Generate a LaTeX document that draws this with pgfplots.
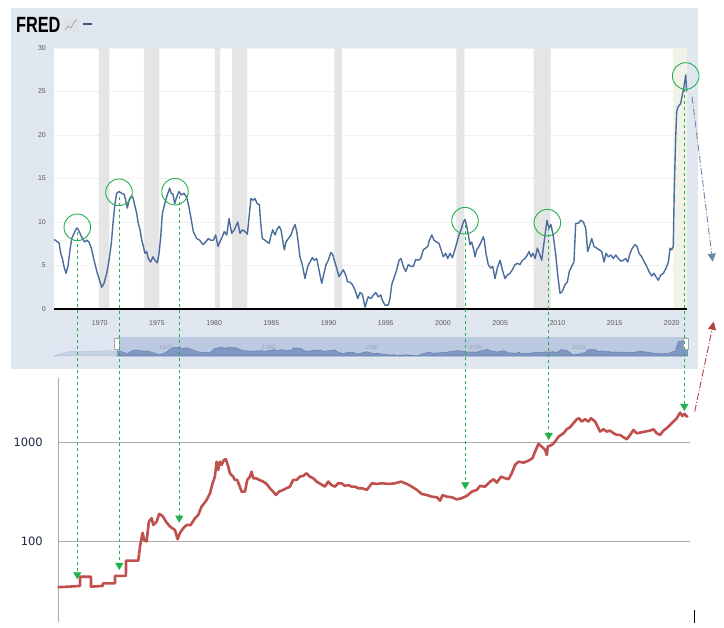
\documentclass[border=0pt]{standalone}
\usepackage{fontspec}
\setmainfont{Liberation Sans}
\newfontfamily\dejavu{DejaVu Sans}
\usepackage{pgfplots}
\pgfplotsset{compat=1.18}
\usepackage{pgfplotstable}
\usetikzlibrary{arrows.meta}
\definecolor{panel}{HTML}{E0E7EF}
\definecolor{rec}{HTML}{E5E5E5}
\definecolor{covid}{HTML}{F1F2E8}
\definecolor{fredline}{HTML}{4C6C9E}
\definecolor{navsel}{HTML}{BBC9E1}
\definecolor{navfill}{HTML}{7F97C2}
\definecolor{navline}{HTML}{6880AE}
\definecolor{navtxt}{HTML}{97A6BF}
\definecolor{gold}{HTML}{C0504D}
\definecolor{grn}{RGB}{34,177,76}
\definecolor{arrowblue}{HTML}{6F87AA}
\definecolor{arrowred}{HTML}{B5403D}
\definecolor{gridc}{HTML}{E4E4DC}
\definecolor{labc}{HTML}{1F2A44}
\definecolor{ticklab}{HTML}{5A5A5A}

\pgfplotstableread{
x y
1966.00 8.0
1966.44 7.6
1966.59 6.4
1966.73 5.8
1966.87 4.9
1967.05 4.1
1967.22 4.9
1967.40 6.8
1967.55 8.1
1967.75 8.7
1967.98 9.3
1968.10 9.2
1968.27 8.7
1968.47 8.1
1968.68 7.7
1968.86 7.9
1969.06 7.7
1969.26 7.0
1969.50 5.6
1969.79 4.1
1970.17 2.5
1970.37 2.95
1970.61 4.1
1970.81 5.6
1971.01 7.55
1971.18 10.2
1971.33 12.1
1971.48 13.3
1971.68 13.5
1971.92 13.3
1972.12 13.2
1972.27 12.5
1972.41 11.6
1972.58 12.6
1972.79 13.0
1972.93 12.7
1973.08 11.8
1973.23 11.0
1973.34 10.0
1973.52 9.1
1973.67 7.9
1973.81 7.2
1973.95 6.4
1974.10 6.6
1974.24 5.8
1974.45 5.4
1974.65 6.0
1974.83 5.6
1975.03 5.3
1975.18 6.4
1975.33 8.3
1975.47 11.0
1975.68 12.1
1975.90 13.1
1976.11 13.9
1976.25 13.3
1976.40 13.2
1976.55 12.1
1976.73 12.9
1976.93 13.5
1977.13 13.1
1977.36 13.3
1977.57 12.9
1977.74 12.1
1977.95 10.6
1978.18 8.9
1978.47 8.1
1978.74 7.9
1979.02 7.4
1979.26 7.7
1979.49 8.1
1979.70 7.9
1979.93 7.9
1980.13 8.5
1980.34 7.2
1980.50 7.7
1980.71 8.3
1980.88 8.9
1981.10 8.5
1981.30 10.4
1981.53 8.7
1981.76 9.1
1982.06 10.0
1982.26 8.7
1982.46 9.1
1982.70 8.9
1982.90 8.6
1983.05 10.6
1983.22 12.7
1983.42 12.5
1983.57 12.7
1983.77 12.1
1983.95 12.0
1984.07 9.85
1984.21 8.1
1984.44 7.9
1984.65 7.7
1984.82 7.55
1984.94 8.3
1985.12 9.1
1985.32 8.5
1985.47 9.1
1985.67 9.5
1985.84 9.1
1985.99 7.9
1986.13 6.8
1986.28 7.7
1986.48 8.1
1986.72 8.5
1986.92 9.3
1987.07 9.7
1987.22 8.9
1987.36 7.55
1987.50 6.0
1987.70 5.1
1987.94 3.5
1988.18 4.9
1988.38 5.4
1988.58 5.9
1988.75 5.6
1988.96 5.8
1989.16 4.5
1989.40 2.95
1989.60 4.1
1989.78 5.1
1989.98 5.6
1990.19 6.5
1990.36 6.3
1990.50 5.6
1990.71 4.7
1990.91 3.7
1991.09 4.1
1991.29 4.5
1991.50 3.9
1991.67 3.1
1991.87 3.1
1992.08 2.8
1992.31 2.2
1992.55 1.2
1992.75 1.9
1992.95 1.7
1993.19 0.2
1993.33 0.85
1993.47 1.4
1993.71 1.2
1993.91 1.6
1994.12 1.9
1994.35 1.4
1994.56 1.6
1994.70 1.0
1994.93 0.45
1995.22 0.45
1995.37 1.2
1995.52 2.8
1995.75 3.7
1995.96 4.5
1996.16 5.6
1996.33 5.8
1996.53 4.9
1996.74 4.3
1996.97 5.1
1997.18 4.9
1997.41 4.9
1997.62 5.7
1997.84 5.6
1998.05 5.8
1998.28 6.8
1998.49 7.0
1998.67 7.2
1998.81 7.9
1999.02 8.5
1999.22 7.9
1999.45 7.7
1999.65 7.55
1999.83 6.8
2000.03 6.0
2000.24 6.4
2000.41 5.8
2000.62 6.4
2000.82 5.9
2000.99 6.6
2001.20 7.55
2001.40 8.5
2001.58 9.1
2001.78 10.0
2001.93 10.3
2002.08 9.5
2002.22 8.5
2002.36 7.4
2002.51 7.7
2002.69 6.8
2002.80 6.0
2002.95 6.8
2003.15 7.2
2003.33 7.7
2003.53 8.3
2003.61 7.9
2003.76 6.4
2003.96 5.1
2004.17 4.7
2004.35 4.9
2004.55 3.5
2004.75 4.7
2004.99 5.6
2005.19 4.5
2005.42 3.5
2005.62 3.9
2005.86 4.1
2006.06 4.5
2006.30 5.1
2006.53 5.25
2006.73 5.1
2006.94 5.6
2007.17 5.8
2007.37 6.2
2007.52 6.6
2007.70 6.0
2007.87 6.4
2008.05 5.8
2008.25 7.0
2008.42 6.4
2008.63 5.6
2008.86 7.9
2009.09 10.2
2009.27 9.3
2009.44 9.7
2009.65 8.3
2009.86 6.2
2010.03 3.9
2010.23 1.8
2010.43 2.0
2010.67 2.8
2010.87 3.1
2011.04 4.3
2011.25 4.9
2011.45 5.4
2011.60 9.85
2011.83 9.85
2012.04 10.2
2012.27 10.0
2012.48 9.3
2012.65 6.6
2012.85 7.4
2013.00 8.1
2013.20 7.2
2013.44 7.0
2013.67 6.8
2013.88 6.6
2014.08 5.4
2014.25 6.4
2014.45 6.0
2014.69 6.2
2014.89 5.8
2015.10 6.2
2015.33 5.8
2015.54 5.5
2015.76 5.6
2015.97 5.8
2016.15 5.4
2016.35 6.4
2016.55 7.0
2016.79 7.4
2016.96 7.2
2017.14 6.4
2017.37 6.0
2017.60 5.4
2017.81 4.9
2018.01 4.3
2018.25 3.8
2018.45 4.1
2018.62 3.7
2018.82 3.3
2019.03 3.9
2019.26 4.1
2019.50 4.7
2019.70 5.4
2019.85 7.0
2020.00 6.8
2020.13 7.2
2020.22 13.9
2020.34 19.6
2020.43 22.7
2020.57 23.3
2020.78 23.6
2020.92 24.6
2021.07 25.6
2021.22 26.9
2021.30 25.0
}\mtwo

\pgfplotstableread{
x y
1960.00 0.8
1960.30 1.5
1960.70 3.5
1961.00 5.0
1961.50 6.8
1962.00 7.2
1962.50 6.5
1963.00 7.0
1963.50 7.8
1964.00 7.5
1964.50 7.9
1965.00 8.0
1965.50 8.3
1966.00 8.0
}\mtwoearly

\pgfplotstableread{
x y
1966.32 34.0
1967.25 34.4
1968.27 35.0
1968.28 43.4
1969.23 43.4
1969.24 34.4
1970.26 35.0
1970.27 37.2
1971.33 37.2
1971.34 44.2
1972.29 44.2
1972.30 63.2
1973.37 63.2
1973.52 87.5
1973.75 121
1973.89 102
1974.10 99
1974.30 157
1974.54 170
1974.68 145
1974.98 157
1975.20 188
1975.50 179
1975.79 157
1976.14 140
1976.58 129
1976.81 104
1977.01 120
1977.30 134.5
1977.60 145
1977.95 145
1978.33 170
1978.61 183
1978.91 223
1979.14 241
1979.35 260
1979.64 304
1979.87 384
1980.07 448
1980.22 636
1980.36 524
1980.51 636
1980.66 589
1980.86 662
1981.03 673
1981.24 566
1981.38 485
1981.67 448
1981.82 415
1982.02 415
1982.20 369
1982.41 316
1982.70 316
1982.90 415
1983.13 448
1983.28 503
1983.42 432
1983.66 432
1983.95 415
1984.30 399
1984.59 378
1984.88 342
1985.17 316
1985.41 292
1985.69 316
1986.04 329
1986.34 342
1986.63 355
1986.92 415
1987.22 415
1987.50 448
1987.79 456
1988.09 485
1988.38 448
1988.67 432
1988.96 399
1989.31 378
1989.69 355
1989.98 399
1990.27 369
1990.56 355
1990.85 384
1991.15 384
1991.44 361
1991.73 369
1992.02 355
1992.31 355
1992.60 342
1992.92 342
1993.36 329
1993.80 384
1994.23 378
1994.67 384
1995.26 378
1995.83 384
1996.36 399
1996.86 378
1997.29 355
1997.73 329
1998.17 299
1998.60 292
1999.04 281
1999.48 277
1999.77 256
1999.98 292
2000.35 281
2000.79 277
2001.23 264
2001.66 271
2002.10 286
2002.54 316
2002.98 329
2003.26 361
2003.70 355
2004.14 399
2004.44 422
2004.72 390
2005.10 448
2005.45 432
2005.75 422
2006.03 485
2006.32 589
2006.62 636
2007.06 621
2007.50 651
2007.84 689
2008.07 804
2008.37 962
2008.66 902
2008.95 836
2009.10 743
2009.18 902
2009.53 940
2009.82 1014
2010.12 1140
2010.56 1233
2010.84 1355
2011.13 1419
2011.43 1560
2011.72 1711
2011.92 1751
2012.15 1618
2012.44 1711
2012.74 1618
2012.97 1751
2013.32 1618
2013.55 1439
2013.75 1282
2014.05 1355
2014.34 1282
2014.63 1312
2014.93 1233
2015.21 1186
2015.50 1186
2015.80 1124
2016.09 1072
2016.38 1186
2016.67 1333
2016.96 1233
2017.25 1250
2017.69 1282
2018.13 1312
2018.42 1355
2018.71 1233
2019.00 1186
2019.30 1312
2019.58 1387
2019.87 1497
2020.17 1618
2020.46 1751
2020.75 1995
2020.96 1845
2021.13 1935
2021.42 1791
}\gold

\begin{document}
\begin{tikzpicture}
\path[use as bounding box] (0pt,0pt) rectangle (724pt,628pt);
\begin{scope}[x=1pt, y=-1pt, shift={(0pt,628pt)}]
\fill[white] (0,0) rectangle (724,628);
\fill[panel] (11,8) rectangle (698,369);
% FRED logo
\node[anchor=west, inner sep=0pt, xscale=0.74, font=\fontsize{22}{22}\selectfont\bfseries] at (16,24.5) {FRED};
\fill[gray!22] (64,18) rectangle (78,32);
\draw[fredline!70, line width=0.6pt] (65,30) -- (68,26) -- (71,28) -- (74,22) -- (77,20);
\draw[fredline!80!black, line width=1.2pt] (83,24) -- (92,24);
\end{scope}

% main FRED axis
\begin{axis}[at={(54pt,319pt)}, anchor=south west, scale only axis,
  width=633pt, height=261pt,
  xmin=1966, xmax=2021.33, ymin=0, ymax=30, clip=false,
  axis line style={draw=none}, major tick length=0pt,
  axis background/.style={fill=white},
  ymajorgrids, grid style={color=gridc, line width=0.8pt, dash pattern=on 1pt off 1pt},
  xtick={1970,1975,1980,1985,1990,1995,2000,2005,2010,2015,2020},
  xticklabels={1970,1975,1980,1985,1990,1995,2000,2005,2010,2015,2020},
  ytick={0,5,10,15,20,25,30},
  yticklabels={0,5,10,15,20,25,30},
  tick label style={font=\fontsize{7}{7}\selectfont, text=ticklab},
  xticklabel style={anchor=center, yshift=-14pt},
  yticklabel style={anchor=east, inner sep=0pt, xshift=-8pt},
]
\addplot[fill=rec, draw=none] coordinates {(1969.92,0) (1969.92,30) (1970.83,30) (1970.83,0)} \closedcycle;
\addplot[fill=rec, draw=none] coordinates {(1973.85,0) (1973.85,30) (1975.20,30) (1975.20,0)} \closedcycle;
\addplot[fill=rec, draw=none] coordinates {(1980.08,0) (1980.08,30) (1980.52,30) (1980.52,0)} \closedcycle;
\addplot[fill=rec, draw=none] coordinates {(1981.58,0) (1981.58,30) (1982.88,30) (1982.88,0)} \closedcycle;
\addplot[fill=rec, draw=none] coordinates {(1990.50,0) (1990.50,30) (1991.18,30) (1991.18,0)} \closedcycle;
\addplot[fill=rec, draw=none] coordinates {(2001.17,0) (2001.17,30) (2001.88,30) (2001.88,0)} \closedcycle;
\addplot[fill=rec, draw=none] coordinates {(2007.92,0) (2007.92,30) (2009.42,30) (2009.42,0)} \closedcycle;
\addplot[fill=covid, draw=none] coordinates {(2020.13,0) (2020.13,30) (2021.33,30) (2021.33,0)} \closedcycle;
\addplot[fredline, line width=1.4pt, line join=round] table[x=x,y=y]{\mtwo};
\addplot[black, line width=1.6pt] coordinates {(1966,0) (2021.33,0)};
\end{axis}

% navigator
\begin{scope}[x=1pt, y=-1pt, shift={(0pt,628pt)}]
\fill[navsel] (54,337) rectangle (687,357);
\end{scope}
\begin{axis}[at={(54pt,272pt)}, anchor=south west, scale only axis,
  width=633pt, height=19pt, xmin=1960, xmax=2021.25, ymin=0, ymax=30,
  hide axis, clip=false]
\addplot[fill=navfill, draw=navline, line width=0.5pt] table[x=x,y=y]{\mtwoearly} \closedcycle;
\addplot[fill=navfill, draw=navline, line width=0.5pt] table[x=x,y=y]{\mtwo} \closedcycle;
\end{axis}
\begin{scope}[x=1pt, y=-1pt, shift={(0pt,628pt)}]
\fill[white, opacity=0.55] (54,337) rectangle (117,357);
\foreach \yr/\px in {1970/159,1980/262,1990/365,2000/469,2010/572}{
  \node[anchor=west, inner sep=0pt, font=\fontsize{6}{6}\selectfont, text=navtxt] at (\px,347) {\yr};
}
\draw[gray!70, fill=white, line width=0.5pt] (114.5,338.5) rectangle (119.5,349.5);
\draw[gray!70, fill=white, line width=0.5pt] (683.5,338.5) rectangle (688.5,349.5);
\end{scope}

% gold axis
\begin{axis}[at={(58pt,6.3pt)}, anchor=south west, scale only axis,
  width=632pt, height=243.4pt,
  xmin=1966.35, xmax=2021.62, ymode=log, ymin=15.2, ymax=4446, clip=false,
  axis x line=none, axis y line*=left,
  axis line style={draw=gray!65, line width=0.8pt},
  major tick length=0pt, minor tick length=0pt, yminorticks=false, xtick=\empty,
  ytick={100,1000}, yticklabels={100,1000}, minor ytick={},
  ymajorgrids, grid style={color=gray!65, line width=0.8pt},
  yticklabel style={font=\dejavu\fontsize{11.5}{12}\selectfont, text=labc, anchor=east, inner sep=0pt, xshift=-15pt},
]
\addplot[gold, line width=2.6pt, line join=round] table[x=x,y=y]{\gold};
\end{axis}

% annotations
\begin{scope}[x=1pt, y=-1pt, shift={(0pt,628pt)}]
\foreach \cx/\cy in {77.3/227.3, 119/192.3, 175/191.7, 465/220.7, 547.3/222.7, 685.7/76}{
  \draw[grn, line width=0.9pt] (\cx,\cy) circle[radius=13.3pt];
}
\foreach \lx/\ly/\ty in {77.3/232/579.3, 119.3/197/570, 179.3/196/522.7, 465.3/225/489.3, 548.7/228/440, 684.3/89/411}{
  \draw[grn, line width=0.9pt, dash pattern=on 3.5pt off 2.5pt, -{Triangle[length=7pt,width=8pt]}] (\lx,\ly) -- (\lx,\ty);
}
\draw[arrowblue, line width=0.9pt, dash pattern=on 7pt off 2pt on 1pt off 2pt, -{Triangle[length=8pt,width=8pt]}] (692,96.7) -- (712.7,261.7);
\draw[arrowred, line width=0.9pt, dash pattern=on 7pt off 2pt on 1pt off 2pt, -{Triangle[length=8pt,width=8pt]}] (694.7,411.7) -- (713.7,321.7);
\draw[black, line width=0.8pt] (694,610) -- (694,623);
\end{scope}
\end{tikzpicture}
\end{document}
